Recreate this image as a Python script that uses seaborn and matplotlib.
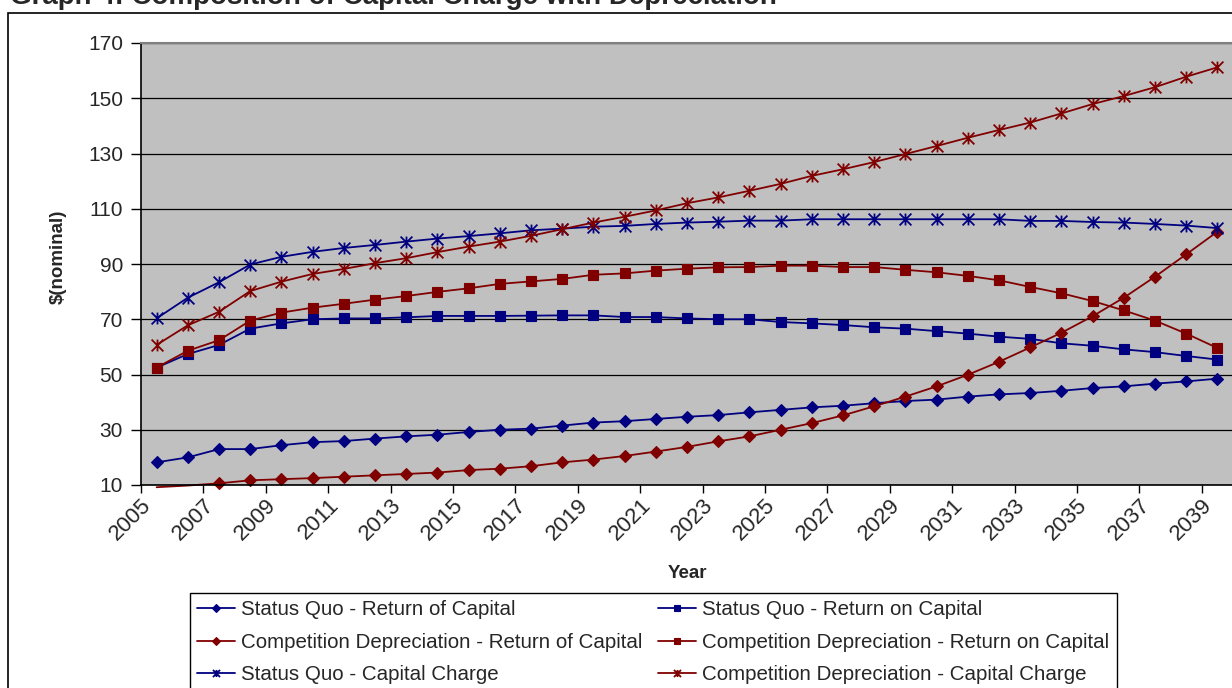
import matplotlib
matplotlib.use("Agg")
import matplotlib.pyplot as plt
from matplotlib.path import Path
from matplotlib.patches import Rectangle
import seaborn as sns

# ---------------------------------------------------------------
# Data
# ---------------------------------------------------------------
years = list(range(2005, 2040))

sq_return_of = [18.2, 20.0, 23.0, 23.0, 24.4, 25.5, 25.9, 26.8, 27.6, 28.2, 29.2, 30.0, 30.4,
                31.5, 32.6, 33.1, 33.9, 34.7, 35.3, 36.3, 37.2, 38.1, 38.7, 39.6, 40.4,
                40.9, 42.0, 42.8, 43.3, 44.1, 45.1, 45.7, 46.7, 47.5, 48.5]
sq_return_on = [52.5, 57.4, 60.7, 66.6, 68.5, 70.0, 70.3, 70.3, 70.7, 71.2, 71.2, 71.2, 71.3,
                71.4, 71.4, 70.8, 70.8, 70.3, 70.0, 70.0, 69.0, 68.5, 67.9, 67.1, 66.6,
                65.7, 64.8, 63.7, 62.9, 61.3, 60.4, 59.1, 58.1, 56.7, 55.4]
cd_return_of = [9.2, 9.8, 10.6, 11.7, 12.1, 12.5, 13.0, 13.5, 14.0, 14.5, 15.4, 15.9, 16.8,
                18.2, 19.2, 20.5, 22.1, 23.8, 25.8, 27.6, 30.0, 32.4, 35.2, 38.5, 42.0,
                45.7, 49.9, 54.6, 59.8, 65.1, 71.1, 77.8, 85.4, 93.5, 101.7]
cd_return_on = [52.5, 58.6, 62.4, 69.5, 72.4, 74.2, 75.6, 77.1, 78.4, 79.9, 81.2, 82.8, 83.7,
                84.6, 86.1, 86.6, 87.6, 88.3, 88.8, 88.9, 89.4, 89.4, 88.9, 88.9, 87.9,
                87.0, 85.7, 84.1, 81.7, 79.4, 76.6, 73.2, 69.5, 64.8, 59.6]
sq_charge = [70.3, 77.8, 83.4, 89.8, 92.6, 94.4, 95.8, 96.9, 98.1, 99.2, 100.1, 101.1, 102.2,
             102.8, 103.5, 103.8, 104.5, 105.0, 105.3, 105.7, 105.7, 106.2, 106.2, 106.2, 106.2,
             106.2, 106.2, 106.2, 105.6, 105.6, 105.2, 105.0, 104.5, 103.9, 103.0]
cd_charge = [60.7, 67.8, 72.7, 80.2, 83.6, 86.4, 88.2, 90.3, 92.1, 94.3, 96.3, 98.1, 100.2,
             102.6, 105.0, 107.1, 109.4, 112.0, 114.1, 116.5, 119.0, 121.9, 124.3, 126.9, 129.8,
             132.7, 135.7, 138.5, 141.2, 144.5, 147.9, 150.8, 154.0, 157.8, 161.2]

series_names = [
    "Status Quo - Return of Capital",
    "Status Quo - Return on Capital",
    "Competition Depreciation - Return of Capital",
    "Competition Depreciation - Return on Capital",
    "Status Quo - Capital Charge",
    "Competition Depreciation - Capital Charge",
]
series_values = [sq_return_of, sq_return_on, cd_return_of, cd_return_on, sq_charge, cd_charge]

NAVY = "#000080"
MAROON = "#800000"
# Excel style star: an X with a vertical stroke
star = Path([(0, -1), (0, 1), (-1, -1), (1, 1), (-1, 1), (1, -1)],
            [Path.MOVETO, Path.LINETO] * 3)
series_colors = [NAVY, NAVY, MAROON, MAROON, NAVY, MAROON]
series_markers = ["D", "s", "D", "s", star, star]
marker_sizes = [6.3, 6.5, 6.3, 6.5, 8.5, 8.5]

# ---------------------------------------------------------------
# Plot
# ---------------------------------------------------------------
sns.set_style("white")
plt.rcParams["font.family"] = ["Liberation Sans", "DejaVu Sans"]

fig = plt.figure(figsize=(12.32, 6.88), dpi=100)
ax = fig.add_axes([141 / 1232, 1 - 485 / 688, 1092 / 1232, 442 / 688])
ax.set_facecolor("#C0C0C0")

for name, vals, col, mk, ms in zip(series_names, series_values, series_colors,
                                   series_markers, marker_sizes):
    extra = {}
    if name == "Competition Depreciation - Return of Capital":
        # line dips just under the axis floor at the start, markers hidden there
        extra = dict(clip_on=False, markevery=slice(2, None))
    sns.lineplot(x=years, y=vals, ax=ax, color=col, marker=mk, markersize=ms,
                 markeredgecolor=col, markerfacecolor=col,
                 markeredgewidth=1.3 if mk is star else 0.8,
                 linewidth=1.3, label=name, **extra)

ax.set_ylim(10, 170)
ax.set_yticks(range(10, 171, 20))
ax.set_xlim(2004.5, 2039.5)
ax.set_xticks([y - 0.5 for y in years[::2]])
ax.set_xticklabels([str(y) for y in years[::2]], rotation=45, ha="right",
                   va="top", rotation_mode="anchor")
ax.grid(axis="y", color="black", linewidth=0.9)
ax.grid(axis="x", visible=False)
ax.tick_params(axis="y", direction="out", length=7, width=1, color="black",
               labelsize=15, pad=6, left=True)
ax.tick_params(axis="x", direction="out", length=6, width=1, color="black",
               labelsize=16, pad=1, bottom=True)

for side in ["left", "bottom"]:
    ax.spines[side].set_color("black")
    ax.spines[side].set_linewidth(1.2)
ax.spines["top"].set_color("#808080")
ax.spines["top"].set_linewidth(1.5)
ax.spines["right"].set_visible(False)

ax.set_xlabel("Year", fontsize=13.5, fontweight="bold")
ax.xaxis.set_label_coords(0.5, -0.2)
ax.xaxis.label.set_va("center")
ax.set_ylabel("$(nominal)", fontsize=13.5, fontweight="bold")
ax.yaxis.set_label_coords(-0.076, 0.516)
ax.yaxis.label.set_va("center")

# legend: Excel lays it out row-wise, matplotlib column-wise
handles, labels = ax.get_legend_handles_labels()
order = [0, 2, 4, 1, 3, 5]
leg = ax.legend([handles[i] for i in order], [labels[i] for i in order],
                ncol=2, loc="upper left", bbox_to_anchor=(190 / 1232, 1 - 593 / 688),
                bbox_transform=fig.transFigure, borderaxespad=0, fontsize=14.8,
                frameon=True, fancybox=False, edgecolor="black", framealpha=1,
                handlelength=1.85, handletextpad=0.3, columnspacing=0.75,
                labelspacing=0.66, borderpad=0.35, markerscale=0.6)
leg.get_frame().set_linewidth(1.0)

# chart frame and the cut-off title at the very top
fig.add_artist(Rectangle((8 / 1232, -0.1), 1.2, 1.1 - 13 / 688, transform=fig.transFigure,
                         fill=False, edgecolor="black", linewidth=1.2))
fig.text(10 / 1232, 1 - 4 / 688, "Graph 4: Composition of Capital Charge with Depreciation",
         fontsize=20, fontweight="bold", va="baseline", ha="left")

fig.savefig("out.png", dpi=100)
